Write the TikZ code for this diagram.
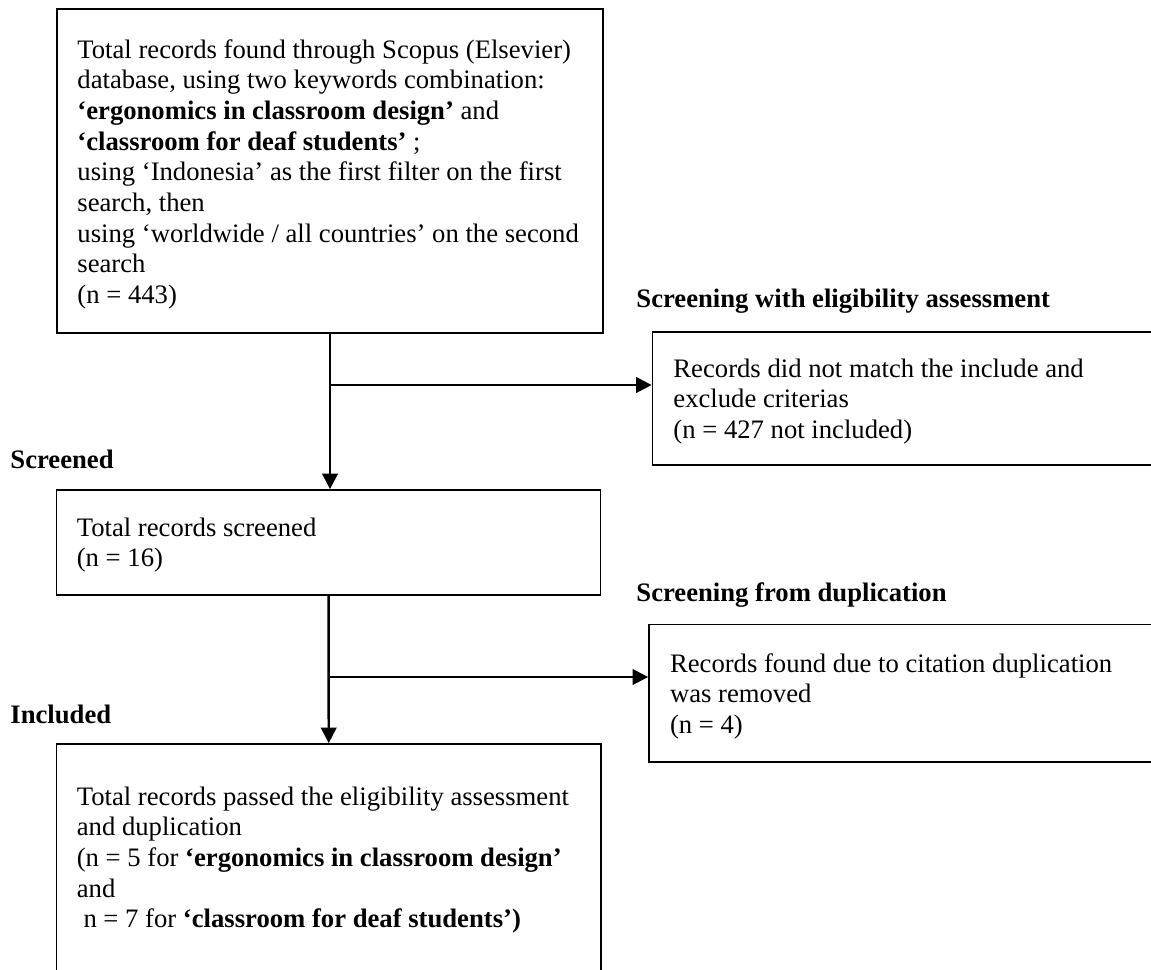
\documentclass[tikz,border=0pt]{standalone}
\usepackage{fontspec}
\setmainfont{Liberation Serif}
\usetikzlibrary{arrows.meta,fit,calc}
\begin{document}
\begin{tikzpicture}[x=0.45pt,y=-0.45pt,
  boxstyle/.style={draw,line width=0.8pt,inner sep=0pt},
  txt/.style={anchor=base west,inner sep=0pt,font=\fontsize{12}{13.8}\selectfont},
  head/.style={anchor=base west,inner sep=0pt,font=\fontsize{12}{13.8}\selectfont\bfseries},
  arr/.style={line width=1.1pt,-{Triangle[width=7pt,length=7pt]}}]
\clip (0,0) rectangle (1151,969);
\fill[white] (0,0) rectangle (1151,969);
% boxes
\node[boxstyle,fit={(57,9) (603,333)}] (b1) {};
\node[boxstyle,fit={(652.5,332) (1165,465)}] (b2) {};
\node[boxstyle,fit={(56.5,490) (600.6,595)}] (b3) {};
\node[boxstyle,fit={(649,624.5) (1165,761.7)}] (b4) {};
\node[boxstyle,fit={(56.5,744) (601,990)}] (b5) {};
% box texts
\node[txt] (t1) at (77,58) {\parbox[t]{260pt}{\raggedright
Total records found through Scopus (Elsevier)\\
database, using two keywords combination:\\
\textbf{‘ergonomics in classroom design’} and\\
\textbf{‘classroom for deaf students’} ;\\
using ‘Indonesia’ as the first filter on the first\\
search, then\\
using ‘worldwide / all countries’ on the second\\
search\\
(n = 443)}};
\node[txt] (t2) at (673,377) {\parbox[t]{230pt}{\raggedright
Records did not match the include and\\
exclude criterias\\
(n = 427 not included)}};
\node[txt] (t3) at (76.4,536) {\parbox[t]{230pt}{\raggedright
Total records screened\\
(n = 16)}};
\node[txt] (t4) at (669.6,672) {\parbox[t]{230pt}{\raggedright
Records found due to citation duplication\\
was removed\\
(n = 4)}};
\node[txt] (t5) at (76.4,805) {\parbox[t]{260pt}{\raggedright
Total records passed the eligibility assessment\\
and duplication\\
(n = 5 for \textbf{‘ergonomics in classroom design’}\\
and\\
\mbox{}\ n = 7 for \textbf{‘classroom for deaf students’)}}};
% headings
\node[head] (h1) at (636,307) {Screening with eligibility assessment};
\node[head] (h2) at (10,468) {Screened};
\node[head] (h3) at (636,601) {Screening from duplication};
\node[head] (h4) at (10,723) {Included};
% connectors
\draw[arr] (b1.south) -- (b1.south |- b3.north);
\coordinate (j1) at (330,385);
\draw[arr] (j1) -- (j1 -| b2.west);
\draw[arr] (b3.south) -- (b5.north);
\coordinate (j2) at (328.6,677);
\draw[arr] (j2) -- (j2 -| b4.west);
\end{tikzpicture}
\end{document}
